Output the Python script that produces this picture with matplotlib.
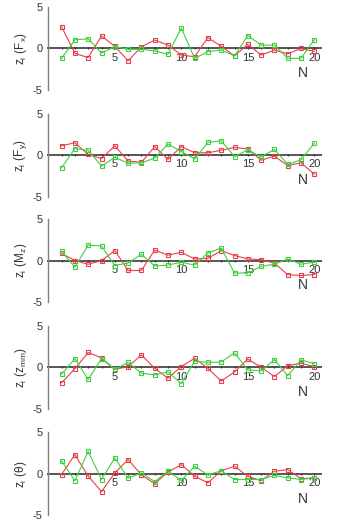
import matplotlib.pyplot as plt
import numpy as np

plt.rcParams['font.family'] = ['Liberation Sans', 'DejaVu Sans']
plt.rcParams['mathtext.default'] = 'regular'
plt.rcParams['axes.unicode_minus'] = False

n = np.arange(1, 21)

fx_red = [2.6, -0.6, -1.1, 1.5, 0.25, -1.5, 0.2, 1.0, 0.4, -0.8,
          -1.0, 1.3, 0.25, -0.9, 0.5, -0.8, -0.2, -0.65, 0.0, -0.35]
fx_green = [-1.2, 1.05, 1.15, -0.55, 0.2, -0.1, -0.1, -0.3, -0.7, 2.45,
            -1.2, -0.4, -0.2, -0.9, 1.55, 0.4, 0.4, -1.2, -1.2, 1.05]

fy_red = [1.15, 1.5, 0.1, -0.4, 1.15, -0.7, -0.85, 1.05, -0.5, 1.05,
          0.3, 0.3, 0.6, 0.95, 0.75, -0.6, -0.1, -1.25, -0.9, -2.3]
fy_green = [-1.5, 0.8, 0.6, -1.3, -0.25, -0.95, -0.9, -0.35, 1.35, 0.45,
            -0.45, 1.55, 1.75, -0.15, 0.65, -0.2, 0.7, -1.1, -0.55, 1.45]

mz_red = [0.85, 0.0, -0.45, 0.0, 1.2, -1.2, -1.2, 1.25, 0.65, 1.0,
          0.2, 0.25, 1.2, 0.6, 0.2, 0.1, -0.3, -1.7, -1.8, -1.7]
mz_green = [1.1, -0.8, 1.85, 1.75, -0.6, -0.3, 0.75, -0.65, -0.55, -0.2,
            -0.55, 0.9, 1.5, -1.5, -1.5, -0.7, -0.45, 0.2, -0.45, -0.2]

zmm_red = [-1.85, -0.15, 1.8, 1.15, -0.25, 0.1, 1.5, -0.1, -1.3, 0.1,
           1.1, -0.1, -1.65, -0.55, 1.0, 0.0, -1.1, 0.2, 0.5, 0.1]
zmm_green = [-0.8, 1.05, -1.45, 1.05, -0.25, 0.6, -0.7, -0.9, -0.55, -1.95,
             0.75, 0.6, 0.65, 1.75, -0.3, -0.45, 0.95, -1.0, 0.9, 0.45]

th_red = [-0.1, 2.3, -0.3, -2.15, 0.1, 1.7, -0.15, -1.2, 0.2, 1.1,
          -0.3, -1.1, 0.35, 0.9, -0.3, -0.85, 0.3, 0.5, -0.6, -0.5]
th_green = [1.55, -0.85, 2.7, -0.7, 1.9, -0.55, 0.1, -0.95, 0.3, -0.8,
            0.9, -0.15, 0.35, -0.7, -0.7, -0.7, -0.2, -0.5, -0.7, -0.5]

ylabels = [r'$z_i\ (F_x)$', r'$z_i\ (F_y)$', r'$z_i\ (M_z)$',
           r'$z_i\ (z_{mm})$', r'$z_i\ (\theta)$']
reds = [fx_red, fy_red, mz_red, zmm_red, th_red]
greens = [fx_green, fy_green, mz_green, zmm_green, th_green]

red = '#e8404a'
green = '#3fd03f'
txt = '#333333'

fig = plt.figure(figsize=(3.5, 5.29), dpi=100)
bottoms = [0.830, 0.628, 0.429, 0.227, 0.026]

for b, lab, r, g in zip(bottoms, ylabels, reds, greens):
    ax = fig.add_axes([0.138, b, 0.779, 0.157])
    ax.plot(n, r, color=red, lw=0.8, marker='s', ms=3.5, mfc='none', mew=0.8)
    ax.plot(n, g, color=green, lw=0.8, marker='s', ms=3.5, mfc='none', mew=0.8)
    ax.set_xlim(0, 20.5)
    ax.set_ylim(-5, 5)
    ax.spines['top'].set_visible(False)
    ax.spines['right'].set_visible(False)
    ax.spines['left'].set_color('#808080')
    ax.spines['left'].set_linewidth(1.0)
    ax.spines['bottom'].set_position(('data', 0))
    ax.spines['bottom'].set_color('#555555')
    ax.spines['bottom'].set_linewidth(1.4)
    ax.spines['bottom'].set_zorder(1)
    ax.set_yticks([-5, 0, 5])
    ax.tick_params(axis='y', length=0, labelsize=8, labelcolor=txt, pad=4)
    ax.set_xticks([5, 10, 15, 20])
    ax.set_xticks(n, minor=True)
    ax.tick_params(axis='x', which='both', direction='inout', length=2,
                   width=0.8, color='#333333', labelsize=8, labelcolor=txt, pad=2)
    ax.set_ylabel(lab, fontsize=8.5, color=txt, labelpad=3)
    ax.text(19.15, -3.0, 'N', fontsize=10, color=txt, ha='center', va='center')
    ax.patch.set_alpha(0)

fig.savefig('out.png', dpi=100)
